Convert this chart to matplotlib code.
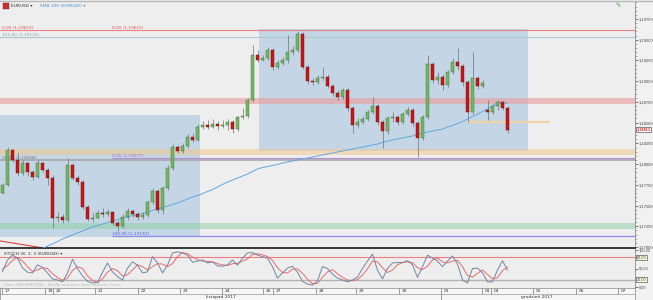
import numpy as np
import matplotlib
matplotlib.use("Agg")
import matplotlib.pyplot as plt
from matplotlib.patches import Rectangle
from matplotlib.ticker import FixedLocator, MultipleLocator

# ---------------- data ----------------
opens = [1.17651, 1.17748, 1.18170, 1.18049, 1.17893, 1.18013, 1.17905, 1.17845, 1.18013, 1.17929,
         1.17833, 1.17350, 1.17362, 1.17326, 1.17989, 1.17833, 1.17784, 1.17483, 1.17338, 1.17350,
         1.17410, 1.17398, 1.17422, 1.17290, 1.17254, 1.17362, 1.17434, 1.17398, 1.17362, 1.17386,
         1.17543, 1.17676, 1.17446, 1.17712, 1.17953, 1.18206, 1.18158, 1.18218, 1.18327, 1.18291,
         1.18447, 1.18472, 1.18447, 1.18484, 1.18459, 1.18472, 1.18508, 1.18423, 1.18568, 1.18580,
         1.18773, 1.19316, 1.19255, 1.19280, 1.19376, 1.19171, 1.19219, 1.19255, 1.19352, 1.19376,
         1.19569, 1.19171, 1.19002, 1.18990, 1.19038, 1.19050, 1.18942, 1.18857, 1.18809, 1.18894,
         1.18677, 1.18472, 1.18508, 1.18544, 1.18628, 1.18701, 1.18508, 1.18399, 1.18556, 1.18568,
         1.18508, 1.18604, 1.18652, 1.18496, 1.18315, 1.18568, 1.19207, 1.19014, 1.19050, 1.18954,
         1.19111, 1.19231, 1.19183, 1.18990, 1.18628, 1.19038, 1.18942, 1.18652, 1.18628, 1.18701,
         1.18749, 1.18677]
highs = [1.17772, 1.18206, 1.18182, 1.18146, 1.18049, 1.18025, 1.17929, 1.18049, 1.18025, 1.17953,
         1.17869, 1.17422, 1.17398, 1.18074, 1.18013, 1.17869, 1.17808, 1.17507, 1.17410, 1.17446,
         1.17470, 1.17458, 1.17434, 1.17326, 1.17398, 1.17470, 1.17458, 1.17422, 1.17422, 1.17567,
         1.17712, 1.17700, 1.17736, 1.17989, 1.18242, 1.18230, 1.18254, 1.18363, 1.18375, 1.18484,
         1.18520, 1.18532, 1.18544, 1.18520, 1.18532, 1.18544, 1.18532, 1.18580, 1.18677, 1.18797,
         1.19436, 1.19376, 1.19316, 1.19412, 1.19400, 1.19255, 1.19292, 1.19557, 1.19424, 1.19605,
         1.19593, 1.19195, 1.19038, 1.19075, 1.19171, 1.19087, 1.18966, 1.18894, 1.18918, 1.18918,
         1.18701, 1.18556, 1.18580, 1.18652, 1.18809, 1.18725, 1.18532, 1.18580, 1.18628, 1.18592,
         1.18628, 1.18689, 1.18677, 1.18520, 1.18592, 1.19316, 1.19231, 1.19111, 1.19087, 1.19135,
         1.19280, 1.19400, 1.19207, 1.19014, 1.19352, 1.19062, 1.19014, 1.18773, 1.18725, 1.18773,
         1.18761, 1.18701]
lows = [1.17639, 1.17736, 1.18025, 1.17857, 1.17869, 1.17857, 1.17808, 1.17833, 1.17905, 1.17748,
        1.17229, 1.17302, 1.17290, 1.17302, 1.17808, 1.17748, 1.17458, 1.17314, 1.17302, 1.17338,
        1.17362, 1.17374, 1.17266, 1.17193, 1.17229, 1.17326, 1.17362, 1.17326, 1.17338, 1.17362,
        1.17519, 1.17410, 1.17398, 1.17688, 1.17929, 1.18134, 1.18134, 1.18194, 1.18266, 1.18279,
        1.18423, 1.18423, 1.18435, 1.18411, 1.18435, 1.18411, 1.18375, 1.18399, 1.18544, 1.18556,
        1.18749, 1.19231, 1.19243, 1.19255, 1.19135, 1.19147, 1.19195, 1.19219, 1.19316, 1.19352,
        1.19147, 1.18966, 1.18954, 1.18966, 1.19014, 1.18918, 1.18821, 1.18773, 1.18785, 1.18640,
        1.18375, 1.18435, 1.18484, 1.18520, 1.18604, 1.18472, 1.18194, 1.18363, 1.18508, 1.18472,
        1.18484, 1.18580, 1.18459, 1.18086, 1.18291, 1.18544, 1.18978, 1.18966, 1.18894, 1.18930,
        1.19087, 1.19135, 1.18942, 1.18508, 1.18604, 1.18906, 1.18918, 1.18532, 1.18604, 1.18652,
        1.18652, 1.18375]
closes = [1.17748, 1.18170, 1.18049, 1.17893, 1.18013, 1.17905, 1.17845, 1.18013, 1.17929, 1.17833,
          1.17350, 1.17362, 1.17326, 1.17989, 1.17833, 1.17784, 1.17483, 1.17338, 1.17350, 1.17410,
          1.17398, 1.17422, 1.17290, 1.17254, 1.17362, 1.17434, 1.17398, 1.17362, 1.17386, 1.17543,
          1.17676, 1.17446, 1.17712, 1.17953, 1.18206, 1.18158, 1.18218, 1.18327, 1.18291, 1.18447,
          1.18472, 1.18447, 1.18484, 1.18459, 1.18472, 1.18508, 1.18423, 1.18568, 1.18580, 1.18773,
          1.19316, 1.19255, 1.19280, 1.19376, 1.19171, 1.19219, 1.19255, 1.19352, 1.19376, 1.19569,
          1.19171, 1.19002, 1.18990, 1.19038, 1.19050, 1.18942, 1.18857, 1.18809, 1.18894, 1.18677,
          1.18472, 1.18508, 1.18544, 1.18628, 1.18701, 1.18508, 1.18399, 1.18556, 1.18568, 1.18508,
          1.18604, 1.18652, 1.18496, 1.18315, 1.18568, 1.19207, 1.19014, 1.19050, 1.18954, 1.19111,
          1.19231, 1.19183, 1.18990, 1.18628, 1.19038, 1.18942, 1.18978, 1.18628, 1.18701, 1.18749,
          1.18677, 1.18413]

sma_start = 8
sma200 = [1.16982,
          1.17012, 1.17036, 1.17066, 1.17096, 1.17121, 1.17145, 1.17169, 1.17193, 1.17217, 1.17241,
          1.17259, 1.17277, 1.17295, 1.17314, 1.17332, 1.17350, 1.17362, 1.17380, 1.17392, 1.17404,
          1.17422, 1.17440, 1.17458, 1.17476, 1.17494, 1.17513, 1.17531, 1.17555, 1.17579, 1.17603,
          1.17621, 1.17645, 1.17669, 1.17693, 1.17724, 1.17754, 1.17784, 1.17808, 1.17832, 1.17856,
          1.17880, 1.17911, 1.17941, 1.17959, 1.17971, 1.17983, 1.17995, 1.18013, 1.18025, 1.18037,
          1.18049, 1.18061, 1.18073, 1.18086, 1.18097, 1.18110, 1.18122, 1.18134, 1.18146, 1.18158,
          1.18170, 1.18182, 1.18194, 1.18206, 1.18218, 1.18230, 1.18242, 1.18260, 1.18278, 1.18291,
          1.18302, 1.18315, 1.18327, 1.18339, 1.18357, 1.18375, 1.18387, 1.18399, 1.18411, 1.18423,
          1.18447, 1.18465, 1.18489, 1.18514, 1.18544, 1.18574, 1.18604, 1.18634, 1.18664, 1.18701,
          1.18725, 1.18737, 1.18737]

stoch_k = [42, 73, 86, 78, 52, 40, 38, 60, 53, 38, 22, 19, 14, 38, 75, 50, 30, 15, 11, 12,
           40, 65, 41, 28, 19, 51, 68, 59, 38, 41, 82, 65, 38, 59, 92, 95, 92, 86, 67, 70,
           73, 65, 68, 57, 56, 60, 73, 59, 78, 92, 93, 86, 82, 78, 55, 24, 38, 51, 56, 40,
           15, 8, 5, 17, 55, 50, 35, 24, 19, 14, 19, 27, 50, 70, 89, 45, 22, 50, 65, 66,
           66, 71, 60, 26, 55, 86, 78, 70, 55, 70, 84, 62, 19, 11, 50, 51, 38, 14, 14, 46,
           71, 46]
stoch_d = [48, 58, 72, 80, 70, 55, 42, 46, 52, 50, 36, 25, 18, 24, 45, 55, 50, 30, 18, 12,
           22, 40, 50, 44, 30, 33, 46, 60, 55, 46, 55, 63, 62, 55, 63, 82, 93, 90, 81, 74,
           70, 69, 68, 63, 60, 58, 63, 64, 70, 76, 88, 90, 87, 82, 72, 52, 39, 38, 48, 49,
           37, 21, 9, 10, 26, 41, 47, 36, 26, 19, 17, 20, 32, 49, 70, 68, 52, 39, 46, 60,
           66, 68, 66, 52, 47, 56, 73, 78, 68, 65, 70, 72, 55, 31, 27, 37, 46, 34, 22, 25,
           44, 54]

day_labels = ['17', '19', '20', '21', '22', '23', '24', '26', '27', '28', '29', '30',
              '01', '03', '04', '05', '06', '07']
day_pos = [-0.1, 8.5, 10.1, 18.5, 27.1, 35.5, 43.9, 52.1, 54.1, 62.7, 70.7, 79.3,
           87.7, 95.9, 97.7, 106.1, 114.7, 123.1]
month_labels = ['listopad 2017', 'grudzień 2017']
month_pos = [43.7, 106.9]
month_break = 87.7

# zones / levels
zone1_x = (-1.0, 39.3)
zone1_y = (1.17133, 1.18593)
zone2_x = (51.3, 104.8)
zone2_y = (1.18170, 1.19629)
red_band = (1.18730, 1.18797)
orange_band = (1.18110, 1.18182)
green_band = (1.17218, 1.17290)
lvl_red = 1.19615
lvl_teal = 1.19530
lvl_gray = 1.18049
lvl_purple = 1.18077
lvl_blue = 1.17132
fib_start = 21.9
orange_short = 1.18508
orange_short_x = (92.9, 109.5)
trend_x = [-0.5, 8.5]
trend_y = [1.17073, 1.16985]
last_price = 1.18413

price_ticks = [1.17000, 1.17250, 1.17500, 1.17750, 1.18000, 1.18250, 1.18500,
               1.18750, 1.19000, 1.19250, 1.19500, 1.19750]

# ---------------- figure ----------------
W, H = 653, 300
fig = plt.figure(figsize=(W / 100, H / 100), dpi=100)
fig.patch.set_facecolor('#f1f1f1')
BG = '#eeeeee'
RIGHT = 635 / W
AXFONT = 'Liberation Sans'

ax = fig.add_axes([0, 1 - 248 / H, RIGHT, (248 - 2) / H])
axs = fig.add_axes([0, 1 - 288 / H, RIGHT, (288 - 249) / H])
axd = fig.add_axes([0, 0, RIGHT, 12 / H])

XL = (-0.5, 126.5)
for a in (ax, axs, axd):
    a.set_xlim(*XL)
    a.set_facecolor(BG)

ax.set_ylim(1.16988, 1.19955)
axs.set_ylim(-2.7, 102.7)

# zones
for zx, zy in ((zone1_x, zone1_y), (zone2_x, zone2_y)):
    ax.add_patch(Rectangle((zx[0], zy[0]), zx[1] - zx[0], zy[1] - zy[0],
                           facecolor='#a6c6df', alpha=0.58, edgecolor='#9dbdd8', lw=0.4, zorder=1))
ax.axhspan(*red_band, color='#ec9a9a', alpha=0.6, lw=0, zorder=1.5)
ax.axhspan(*orange_band, color='#f0c88e', alpha=0.55, lw=0, zorder=1.5)
ax.axhspan(*green_band, color='#8fd0a6', alpha=0.55, lw=0, zorder=1.5)

ax.axhline(lvl_red, color='#f08080', lw=0.8, zorder=2)
ax.axhline(lvl_teal, color='#a6c9cf', lw=0.8, zorder=2)
ax.axhline(lvl_gray, color='#a8a8a8', lw=1.2, zorder=2)
ax.hlines(lvl_purple, fib_start, XL[1], color='#b48fd8', lw=0.8, zorder=2)
ax.hlines(lvl_blue, fib_start, XL[1], color='#8a8af0', lw=0.9, zorder=2)
ax.hlines(orange_short, *orange_short_x, color='#efd3a6', lw=1.6, zorder=2)
ax.plot(trend_x, trend_y, color='#e04040', lw=0.8, zorder=2)

# level labels
fs_l = 3.1
ax.text(-0.1, lvl_red, '0,00 (1,19615)', color='#e05050', fontsize=fs_l, va='bottom', ha='left')
ax.text(fib_start, lvl_red, '0,00 (1,19615)', color='#e05050', fontsize=fs_l, va='bottom', ha='left')
ax.text(-0.1, lvl_teal, '161,80 (1,19530)', color='#7fb0b8', fontsize=fs_l, va='bottom', ha='left')
ax.text(-0.1, lvl_gray, '38,20 (1,18048)', color='#777777', fontsize=fs_l, va='bottom', ha='left')
ax.text(fib_start, lvl_purple, '0,00 (1,18077)', color='#9a6cc8', fontsize=fs_l, va='bottom', ha='left')
ax.text(fib_start, lvl_blue, '100,00 (1,17132)', color='#5a5ae0', fontsize=fs_l, va='bottom', ha='left')

# SMA
sx = np.arange(sma_start, sma_start + len(sma200))
ax.plot(sx, sma200, color='#62a8de', lw=0.7, zorder=3)

# candles
x = np.arange(len(closes))
o = np.array(opens); c = np.array(closes); h = np.array(highs); l = np.array(lows)
up = c >= o
ax.vlines(x, l, h, color='#707070', lw=0.5, zorder=4)
ax.bar(x[up], (c - o)[up], bottom=o[up], width=0.6, color='#72b864',
       edgecolor='#3e6b36', lw=0.3, zorder=5)
ax.bar(x[~up], (o - c)[~up], bottom=c[~up], width=0.6, color='#d01515',
       edgecolor='#5a1010', lw=0.3, zorder=5)

# price axis
fmt = lambda v, d: f"{v:.{d}f}".replace('.', ',')
ax.yaxis.tick_right()
ax.yaxis.set_major_locator(FixedLocator(price_ticks))
ax.set_yticklabels([fmt(v, 5) for v in price_ticks], fontfamily=AXFONT)
ax.yaxis.set_minor_locator(MultipleLocator(0.0005))
ax.tick_params(axis='y', which='major', direction='out', length=2.0, width=0.5,
               labelsize=3.0, pad=0.8, colors='#444444')
ax.tick_params(axis='y', which='minor', direction='out', length=1.2, width=0.4, colors='#777777')
ax.set_xticks([])
for s in ('top', 'left'):
    ax.spines[s].set_visible(False)
ax.spines['right'].set_color('#888888'); ax.spines['right'].set_linewidth(0.6)
ax.spines['bottom'].set_color('#2a2a2a'); ax.spines['bottom'].set_linewidth(1.3)

ax.annotate(fmt(last_price, 5), xy=(1, last_price), xycoords=('axes fraction', 'data'),
            xytext=(1.4, 0), textcoords='offset points', fontsize=2.8, color='#e02020',
            va='center', ha='left', fontweight='bold', fontfamily=AXFONT,
            bbox=dict(boxstyle='square,pad=0.15', fc='#ffffff', ec='#333333', lw=0.4))

# stochastic
axs.axhline(80, color='#f08080', lw=0.8)
axs.axhline(20, color='#b4b4b4', lw=1.0)
axs.plot(x, stoch_d, color='#ea6a6a', lw=0.7)
axs.plot(x, stoch_k, color='#6f86a3', lw=0.7)
axs.yaxis.tick_right()
axs.set_yticks([0, 50, 100])
axs.set_yticklabels(['0,00', '50,00', '100,00'], fontfamily=AXFONT)
axs.tick_params(axis='y', direction='out', length=1.8, width=0.5, labelsize=2.8, pad=0.8,
                colors='#444444')
axs.set_xticks([])
for s in ('top', 'left'):
    axs.spines[s].set_visible(False)
axs.spines['right'].set_color('#888888'); axs.spines['right'].set_linewidth(0.6)
axs.spines['bottom'].set_color('#888888'); axs.spines['bottom'].set_linewidth(0.6)
for lv in (80, 20):
    axs.annotate(fmt(lv, 2), xy=(1, lv), xycoords=('axes fraction', 'data'),
                 xytext=(1.4, 0), textcoords='offset points', fontsize=2.8, color='#333333',
                 va='center', ha='left', fontfamily=AXFONT,
                 bbox=dict(boxstyle='square,pad=0.15', fc='#ffffe0', ec='#333333', lw=0.4))
axs.text(0.4, 94, 'STOCH (8; 3; 3 (EURUSD) \u25be', fontsize=3.2, color='#333333',
         va='top', ha='left')
axs.text(0.4, -1, 'Dane ORIENTACYJNE - Źródło notowań: Dane brokera, Forex', fontsize=2.8,
         color='#b8b8b8', va='bottom', ha='left')

# date strip
axd.set_ylim(0, 1)
axd.set_facecolor('#f6f6f6')
axd.set_xticks([]); axd.set_yticks([])
for s in axd.spines.values():
    s.set_color('#888888'); s.set_linewidth(0.5)
axd.axhline(0.5, color='#999999', lw=0.5)
axd.vlines(day_pos, 0.5, 1.0, color='#777777', lw=0.5)
for p_, t_ in zip(day_pos, day_labels):
    axd.text(p_ + 0.5, 0.74, t_, fontsize=3.2, color='#333333', va='center', ha='left')
axd.vlines([month_break], 0.0, 0.5, color='#777777', lw=0.5)
for p_, t_ in zip(month_pos, month_labels):
    axd.text(p_, 0.22, t_, fontsize=3.2, color='#333333', va='center', ha='center')

# header
fig.patches.append(Rectangle((3 / W, 1 - 9 / H), 6 / W, 6 / H, transform=fig.transFigure,
                             facecolor='#c83030', edgecolor='#802020', lw=0.3))
fig.text(11 / W, 1 - 6 / H, 'EURUSD \u25be', fontsize=3.2, color='#333333', va='center', ha='left')
fig.text(40 / W, 1 - 6 / H, 'SMA 200 (EURUSD) \u25be', fontsize=3.2, color='#4a90d0',
         va='center', ha='left')
fig.text(618 / W, 1 - 6 / H, '\u270e', fontsize=4.5, color='#3aa03a', va='center', ha='center')
fig.lines.append(plt.Line2D([0, 1], [1 - 1 / H, 1 - 1 / H], transform=fig.transFigure,
                            color='#b8b8b8', lw=1.0))

fig.savefig('out.png', dpi=100, facecolor=fig.get_facecolor())
